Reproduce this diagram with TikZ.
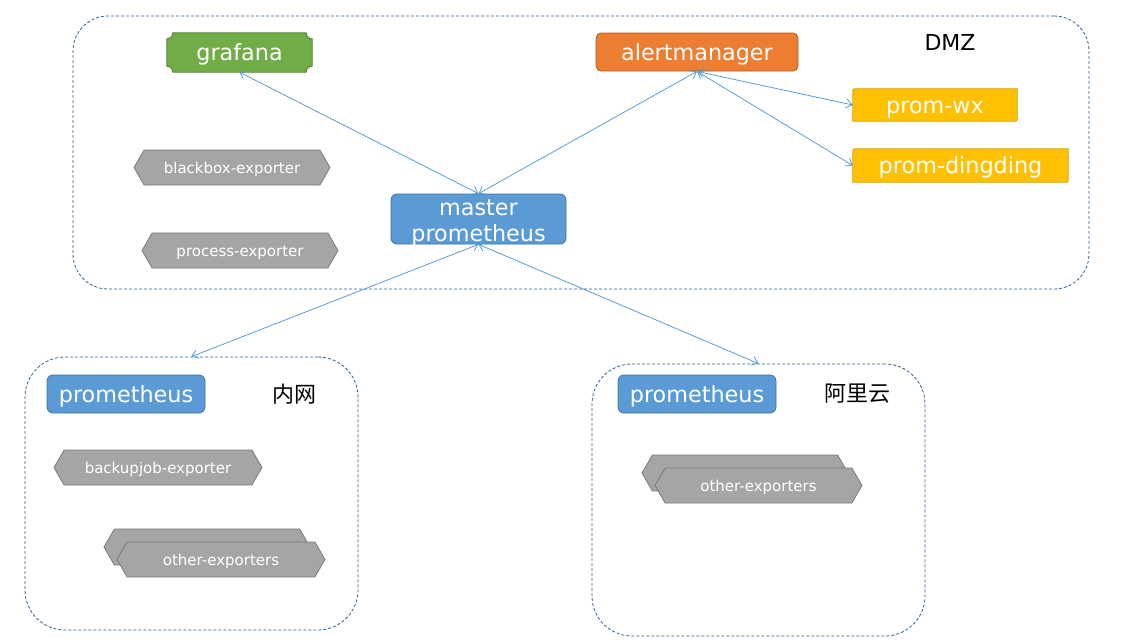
\documentclass[tikz,border=0pt]{standalone}
\usepackage{fontspec}
\setmainfont{DejaVu Sans}
\newfontfamily\cjk{Noto Sans CJK SC}
\usetikzlibrary{shapes.symbols,arrows.meta,backgrounds,calc}
\definecolor{gfill}{HTML}{70AD47}
\definecolor{gline}{HTML}{507E32}
\definecolor{ofill}{HTML}{ED7D31}
\definecolor{oline}{HTML}{AE5A21}
\definecolor{yfill}{HTML}{FFC000}
\definecolor{yline}{HTML}{C9A200}
\definecolor{hfill}{HTML}{A5A5A5}
\definecolor{hline}{HTML}{7A7A7A}
\definecolor{bfill}{HTML}{5B9BD5}
\definecolor{bline}{HTML}{41719C}
\definecolor{zline}{HTML}{2E5F8F}
\definecolor{arr}{HTML}{5B9BD5}
\tikzset{
  bigtext/.style={text=white, font=\fontsize{22.3}{26}\selectfont, inner sep=0pt, text height=16pt, text depth=0pt},
  zone/.style={draw=zline, line width=0.8pt, dash pattern=on 3pt off 2pt, fill=none},
  bluebox/.style={bigtext, draw=bline, fill=bfill, line width=0.8pt, rounded corners=6pt},
  orangebox/.style={bigtext, draw=oline, fill=ofill, line width=0.8pt, rounded corners=5pt},
  textonly/.style={bigtext},
  hexa/.style={signal, signal to=west and east, signal pointer angle=120, draw=hline, fill=hfill, line width=0.8pt, text=white, font=\fontsize{15}{18}\selectfont, inner sep=0pt, text height=12pt, text depth=0pt},
  zonelabel/.style={text=black, font=\fontsize{22}{26}\selectfont, inner sep=0pt},
  link/.style={draw=arr, line width=0.8pt, {Straight Barb[length=6pt,width=9pt]}-{Straight Barb[length=6pt,width=9pt]}},
}
\begin{document}
\begin{tikzpicture}[x=1pt,y=-1pt]
\useasboundingbox (0,0) rectangle (1141,643);
% zones
\node[zone, rounded corners=35pt, minimum width=1016pt, minimum height=273pt] (dmz) at (581,152.5) {};
\node[zone, rounded corners=40pt, minimum width=333pt, minimum height=273pt] (lan) at (191.5,493.5) {};
\node[zone, rounded corners=40pt, minimum width=333pt, minimum height=272pt] (ali) at (758.5,500) {};
\node[zonelabel] (dmzlbl) at (950,42) {DMZ};
\node[zonelabel] (lanlbl) at (294,394) {\cjk 内网};
\node[zonelabel] (alilbl) at (857,394) {\cjk 阿里云};
% DMZ contents
\node[textonly, minimum width=145pt, minimum height=39pt] (grafana) at (239.5,52.5) {grafana};
\node[orangebox, minimum width=202pt, minimum height=38pt] (am) at (697,52) {alertmanager};
\node[textonly, minimum width=164pt, minimum height=32pt] (wx) at (935,105) {prom-wx};
\node[textonly, minimum width=215pt, minimum height=33pt] (ding) at (960.5,165.5) {prom-dingding};
\node[hexa, minimum width=196pt, minimum height=35pt] (bb) at (232,167.5) {blackbox-exporter};
\node[hexa, minimum width=196pt, minimum height=35pt] (pe) at (240,250.5) {process-exporter};
\node[bluebox, text height=30pt, text depth=11.2pt, minimum width=175pt, minimum height=50pt] (master) at (478.5,219) {\begin{tabular}{@{}c@{}}master\\prometheus\end{tabular}};
% LAN contents
\node[bluebox, minimum width=158pt, minimum height=38pt] (promL) at (126,394) {prometheus};
\node[hexa, minimum width=208pt, minimum height=35pt] (bj) at (158,467.5) {backupjob-exporter};
\node[hexa, minimum width=206pt, minimum height=36pt] (oLb) at (207,547) {};
\node[hexa, minimum width=208pt, minimum height=35pt] (oL) at (221,559.5) {other-exporters};
% Aliyun contents
\node[bluebox, minimum width=158pt, minimum height=38pt] (promR) at (697,394) {prometheus};
\node[hexa, minimum width=206pt, minimum height=36pt] (oRb) at (745,473) {};
\node[hexa, minimum width=207pt, minimum height=35pt] (oR) at (758.5,485.5) {other-exporters};
% custom shapes behind text
\begin{pgfonlayer}{background}
  % grafana with concave corners
  \path[fill=gfill, draw=gline, line width=0.8pt]
    ($(grafana.north west)+(6,0)$) -- ($(grafana.north east)+(-6,0)$)
    .. controls ($(grafana.north east)+(-6,3.3)$) and ($(grafana.north east)+(-3.3,6)$) .. ($(grafana.north east)+(0,6)$)
    -- ($(grafana.south east)+(0,-6)$)
    .. controls ($(grafana.south east)+(-3.3,-6)$) and ($(grafana.south east)+(-6,-3.3)$) .. ($(grafana.south east)+(-6,0)$)
    -- ($(grafana.south west)+(6,0)$)
    .. controls ($(grafana.south west)+(6,-3.3)$) and ($(grafana.south west)+(3.3,-6)$) .. ($(grafana.south west)+(0,-6)$)
    -- ($(grafana.north west)+(0,6)$)
    .. controls ($(grafana.north west)+(3.3,6)$) and ($(grafana.north west)+(6,3.3)$) .. ($(grafana.north west)+(6,0)$)
    -- cycle;
  % prom-wx
  \path[fill=yfill, draw=yline, line width=0.8pt]
    (wx.south west) -- ($(wx.north west)+(0,4)$) .. controls (wx.north west) .. ($(wx.north west)+(4,0)$)
    -- (wx.north east) -- ($(wx.south east)+(0,-4)$) .. controls (wx.south east) .. ($(wx.south east)+(-4,0)$) -- cycle;
  % prom-dingding
  \path[fill=yfill, draw=yline, line width=0.8pt]
    (ding.south west) -- ($(ding.north west)+(0,4)$) .. controls (ding.north west) .. ($(ding.north west)+(4,0)$)
    -- (ding.north east) -- ($(ding.south east)+(0,-4)$) .. controls (ding.south east) .. ($(ding.south east)+(-4,0)$) -- cycle;
\end{pgfonlayer}
% connectors
\draw[link] (grafana.south) -- (master.north);
\draw[link] (am.south) -- (master.north);
\draw[link] (am.south) -- (wx.west);
\draw[link] (am.south) -- (ding.west);
\draw[link] (master.south) -- (lan.north);
\draw[link] (master.south) -- (ali.north);
\end{tikzpicture}
\end{document}
